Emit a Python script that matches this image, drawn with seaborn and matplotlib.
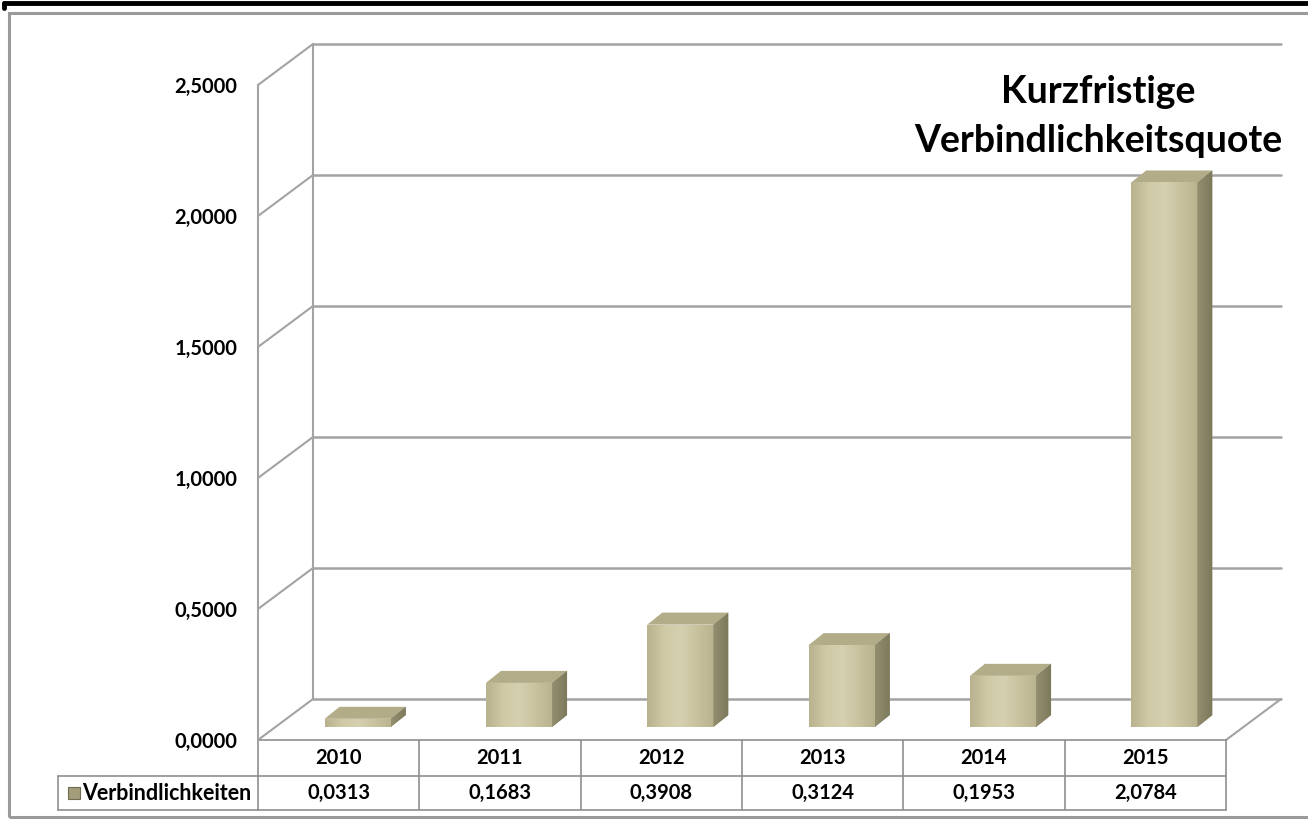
import matplotlib
matplotlib.use("Agg")
import matplotlib.pyplot as plt
import seaborn as sns
import numpy as np
from matplotlib.patches import Polygon, Rectangle
from matplotlib.lines import Line2D
from matplotlib.colors import LinearSegmentedColormap

years = ["2010", "2011", "2012", "2013", "2014", "2015"]
quote = [0.0313, 0.1683, 0.3908, 0.3124, 0.1953, 2.0784]
series_name = "Verbindlichkeiten"
title_lines = ["Kurzfristige", "Verbindlichkeitsquote"]
yticks = [0.0, 0.5, 1.0, 1.5, 2.0, 2.5]

sns.set_style("white")
plt.rcParams["font.family"] = ["Lato", "DejaVu Sans"]
plt.rcParams["font.weight"] = "bold"
plt.rcParams["text.color"] = "black"
plt.rcParams["ytick.labelcolor"] = "black"

W, H = 1308, 819
fig = plt.figure(figsize=(W / 100, H / 100), dpi=100)
# front plane of the pseudo 3d chart, in pixels
L, R, T, B = 258, 1226, 85, 740
ax = fig.add_axes([L / W, (H - B) / H, (R - L) / W, (B - T) / H])

px = 6 / (R - L)          # data x per pixel
py = 2.5 / (B - T)        # data y per pixel
BX, BY = 55 * px, 41 * py     # back wall offset
FX, FY = 19 * px, 13 * py     # bar front offset (mid depth)
SX, SY = 15 * px, 12 * py     # bar depth

grid_c = "#a3a3a3"
face_c = "#cac4a1"
side_c = "#8b8668"
top_c = "#b2ac88"
face_cmap = LinearSegmentedColormap.from_list(
    "face", ["#b8b28e", "#cfc9a6", "#d5d0b0", "#c8c29f", "#b9b390"])
side_cmap = LinearSegmentedColormap.from_list("side", ["#948f6f", "#7d795c"])
grad = np.linspace(0, 1, 64).reshape(1, -1)

# walls
x0, x1 = -0.5, 5.5
for v in yticks:
    ax.plot([x0 + BX, x1 + BX], [v + BY, v + BY], color=grid_c, lw=1.8, zorder=0.5, clip_on=False)
    ax.plot([x0, x0 + BX], [v, v + BY], color=grid_c, lw=1.5, zorder=0.5, clip_on=False)
ax.plot([x0 + BX, x0 + BX], [BY, 2.5 + BY], color=grid_c, lw=1.5, zorder=0.5, clip_on=False)
ax.plot([x1, x1 + BX], [0, BY], color=grid_c, lw=1.5, zorder=0.5, clip_on=False)

# bars
sns.barplot(x=years, y=quote, color=face_c, saturation=1, width=0.41, ax=ax, zorder=2)
for p in list(ax.patches):
    p.set_x(p.get_x() + FX)
    p.set_y(FY)
    p.set_edgecolor("none")
    x, w, h = p.get_x(), p.get_width(), p.get_height()
    side = [(x + w, FY), (x + w, FY + h), (x + w + SX, FY + h + SY), (x + w + SX, FY + SY)]
    top = [(x, FY + h), (x + w, FY + h), (x + w + SX, FY + h + SY), (x + SX, FY + h + SY)]
    im = ax.imshow(grad, cmap=face_cmap, extent=[x, x + w, FY, FY + h], aspect="auto",
                   interpolation="bicubic", zorder=2.1)
    im.set_clip_path(p)
    sp = Polygon(side, closed=True, fc=side_c, ec="none", zorder=2)
    ax.add_patch(sp)
    ims = ax.imshow(grad, cmap=side_cmap, extent=[x + w, x + w + SX, FY, FY + h + SY],
                    aspect="auto", interpolation="bicubic", zorder=2.1)
    ims.set_clip_path(sp)
    ax.add_patch(Polygon(top, closed=True, fc=top_c, ec="none", zorder=2))

ax.set_xlim(-0.5, 5.5)
ax.set_ylim(0, 2.5)

# axis
sns.despine(ax=ax, left=False, bottom=True, right=True, top=True)
ax.spines["left"].set_color(grid_c)
ax.spines["left"].set_linewidth(1.5)
ax.set_yticks(yticks)
ax.set_yticklabels([f"{v:.4f}".replace(".", ",") for v in yticks], fontsize=14.5,
                   fontweight="bold", color="black")
ax.tick_params(axis="y", length=6, width=1.5, color=grid_c, pad=9)
ax.tick_params(axis="x", bottom=False, labelbottom=False)
ax.set_xlabel("")
ax.set_ylabel("")

# data table under the chart
tbl_c = "#8f8f8f"
r1, r2 = -36 * py, -70 * py
lx = x0 - 200 * px
for yy in [0, r1, r2]:
    ax.plot([x0, x1], [yy, yy], color=tbl_c, lw=1.2, clip_on=False)
for yy in [r1, r2]:
    ax.plot([lx, x0], [yy, yy], color=tbl_c, lw=1.2, clip_on=False)
ax.plot([lx, lx], [r1, r2], color=tbl_c, lw=1.2, clip_on=False)
for k in range(7):
    ax.plot([x0 + k, x0 + k], [0, r2], color=tbl_c, lw=1.2, clip_on=False)
for i, (yr, v) in enumerate(zip(years, quote)):
    ax.text(i, r1 / 2, yr, ha="center", va="center", fontsize=14.5, fontweight="bold", color="black")
    ax.text(i, (r1 + r2) / 2, f"{v:.4f}".replace(".", ","), ha="center", va="center",
            fontsize=14.5, fontweight="bold", color="black")
ax.add_patch(Rectangle((lx + 10 * px, (r1 + r2) / 2 - 6 * py), 12 * px, 12 * py,
                       fc="#a39d7b", ec="#6f6b52", lw=0.8, clip_on=False))
ax.text(lx + 24 * px, (r1 + r2) / 2, series_name, ha="left", va="center",
        fontsize=15.5, fontweight="bold", color="black")

# title
fig.text(1098 / W, 1 - 103 / H, title_lines[0], ha="center", va="baseline", fontsize=27,
         fontweight="bold", color="black")
fig.text(1098 / W, 1 - 152 / H, title_lines[1], ha="center", va="baseline", fontsize=27,
         fontweight="bold", color="black")

# frames
fig.add_artist(Rectangle((9 / W, 2 / H), 1 - 9 / W + 0.01, 1 - 13 / H - 2 / H,
                         transform=fig.transFigure, fill=False, ec="#9a9a9a", lw=2.2))
fig.add_artist(Line2D([4 / W, 1], [1 - 3 / H, 1 - 3 / H], transform=fig.transFigure,
                      color="black", lw=3.5))
fig.add_artist(Line2D([4 / W, 4 / W], [1 - 3 / H, 1 - 8 / H], transform=fig.transFigure,
                      color="black", lw=3.5))

fig.savefig("out.png", dpi=100)
